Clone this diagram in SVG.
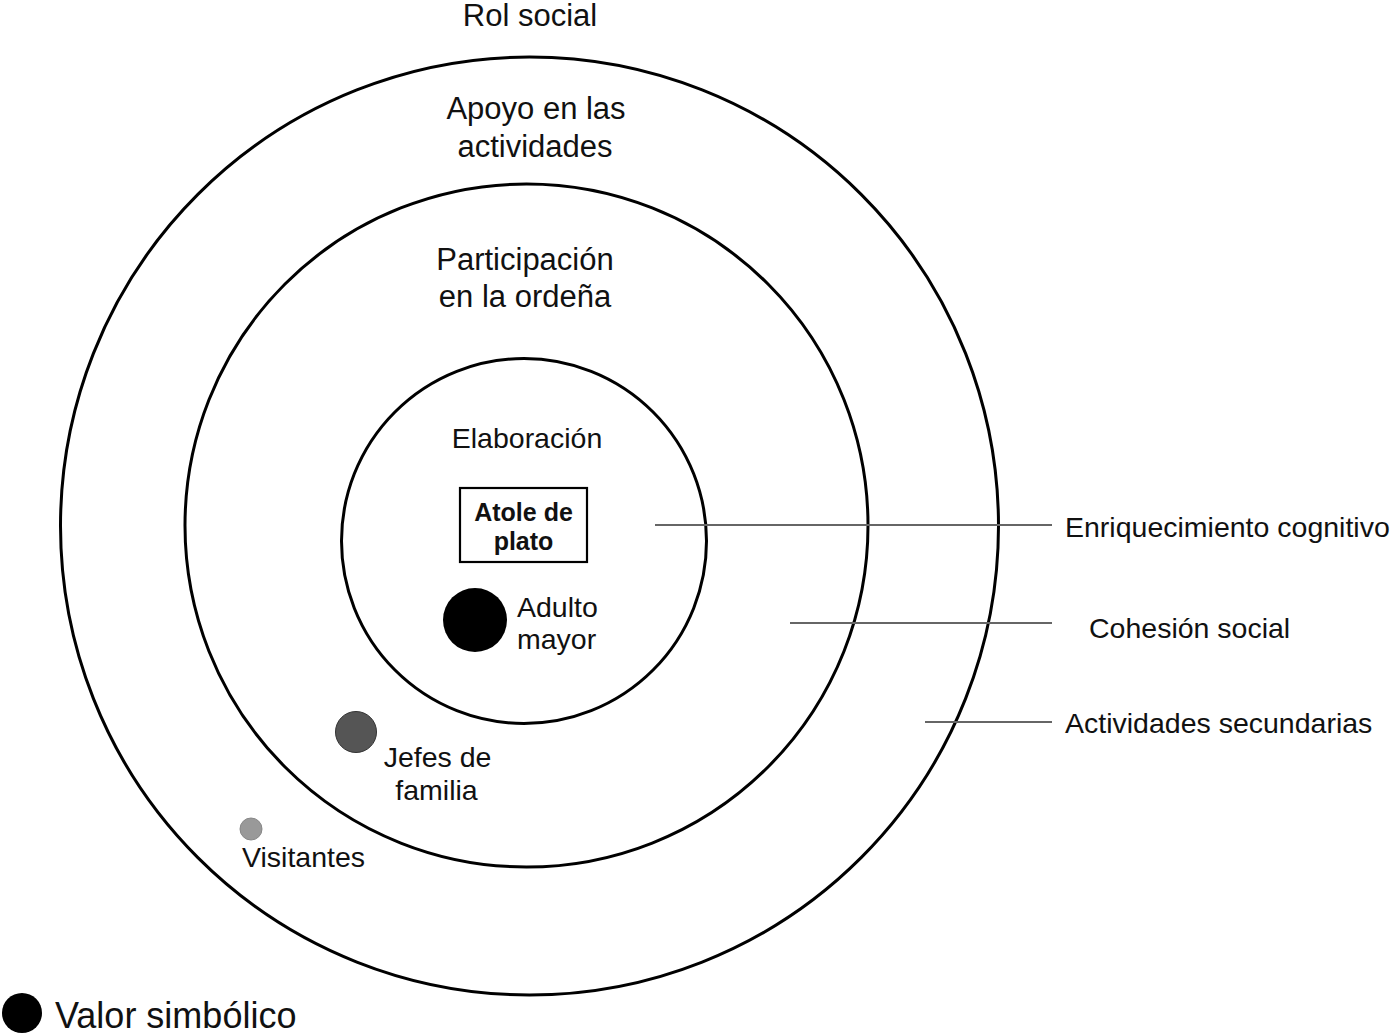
<svg xmlns="http://www.w3.org/2000/svg" width="1391" height="1034" viewBox="0 0 1391 1034">
<style>
text{font-family:"Liberation Sans",Arial,sans-serif;fill:#111;font-size:28.5px}
.top{font-size:31px;text-anchor:middle}
.mid{text-anchor:middle}
.bold{font-weight:bold;font-size:25px;text-anchor:middle}
.ring{fill:none;stroke:#000;stroke-width:3}
.lead{stroke:#666;stroke-width:2;fill:none}
</style>
<rect width="1391" height="1034" fill="#fff"/>
<g id="ring-rol-social">
<circle class="ring" cx="529.5" cy="526" r="469"/>
<text class="top" x="530" y="26">Rol social</text>
</g>
<g id="ring-apoyo">
<circle class="ring" cx="526.5" cy="525.5" r="341.5"/>
<text class="top" x="536" y="119">Apoyo en las</text>
<text class="top" x="535" y="157">actividades</text>
</g>
<g id="ring-participacion">
<text class="top" x="525" y="270">Participación</text>
<text class="top" x="525" y="307">en la ordeña</text>
</g>
<g id="ring-elaboracion">
<circle class="ring" cx="524" cy="541" r="182.5" stroke-width="2.5"/>
<text class="mid" x="527" y="448">Elaboración</text>
</g>
<g id="atole-de-plato">
<rect x="460" y="488" width="127" height="74" fill="none" stroke="#000" stroke-width="2.2"/>
<text class="bold" x="523.5" y="521">Atole de</text>
<text class="bold" x="523.5" y="550">plato</text>
</g>
<g id="adulto-mayor">
<circle cx="475" cy="620" r="32" fill="#000"/>
<text x="517" y="617">Adulto</text>
<text x="517" y="649">mayor</text>
</g>
<g id="jefes-de-familia">
<circle cx="356" cy="732" r="20.5" fill="#555" stroke="#333" stroke-width="1"/>
<text class="mid" x="437.5" y="767">Jefes de</text>
<text class="mid" x="436.5" y="800">familia</text>
</g>
<g id="visitantes">
<circle cx="251" cy="829" r="11" fill="#999" stroke="#888" stroke-width="1"/>
<text x="242" y="867">Visitantes</text>
</g>
<g id="legend-valor-simbolico">
<circle cx="22" cy="1013" r="20" fill="#000"/>
<text x="55" y="1028" style="font-size:36px">Valor simbólico</text>
</g>
<g id="connectors">
<line class="lead" x1="655" y1="525" x2="1052" y2="525"/>
<line class="lead" x1="790" y1="623" x2="1052" y2="623"/>
<line class="lead" x1="925" y1="722" x2="1052" y2="722"/>
</g>
<g id="label-enriquecimiento">
<text x="1065" y="537">Enriquecimiento cognitivo</text>
</g>
<g id="label-cohesion">
<text x="1089" y="638">Cohesión social</text>
</g>
<g id="label-actividades">
<text x="1065" y="733">Actividades secundarias</text>
</g>
</svg>
